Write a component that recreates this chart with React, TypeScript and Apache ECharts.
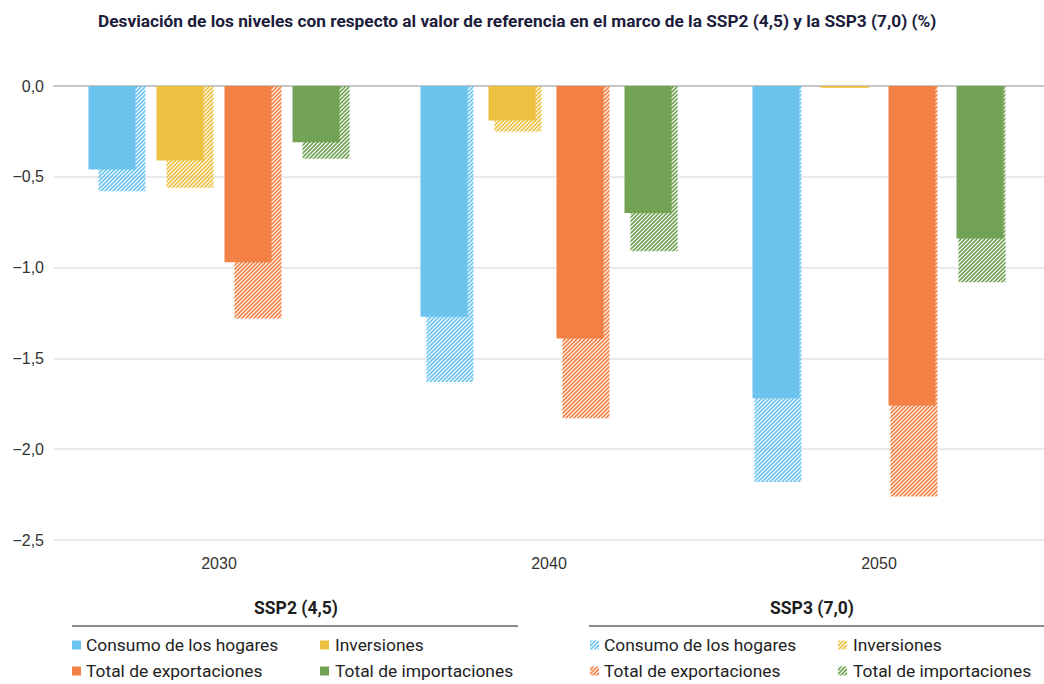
import React, { useEffect, useRef } from "react";
import * as echarts from "echarts";

const categories = ["2030", "2040", "2050"];
const seriesNames = ["Consumo de los hogares", "Inversiones", "Total de exportaciones", "Total de importaciones"];
const ssp2Consumo = [-0.46, -1.27, -1.72];
const ssp2Inversiones = [-0.41, -0.19, -0.01];
const ssp2Exportaciones = [-0.97, -1.39, -1.76];
const ssp2Importaciones = [-0.31, -0.7, -0.84];
const ssp3Consumo = [-0.58, -1.63, -2.18];
const ssp3Inversiones = [-0.56, -0.25, -0.01];
const ssp3Exportaciones = [-1.28, -1.83, -2.26];
const ssp3Importaciones = [-0.4, -0.91, -1.08];
const colors = ["#6cc3ee", "#ecc040", "#f38146", "#72a254"];

const TITLE = "Desviación de los niveles con respecto al valor de referencia en el marco de la SSP2 (4,5) y la SSP3 (7,0) (%)";
const FONT = "Roboto, 'Noto Sans', sans-serif";
const AXISFONT = "'Liberation Sans', Arial, sans-serif";

function makeHatch(color: string) {
  const c = document.createElement("canvas");
  c.width = 4;
  c.height = 4;
  const ctx = c.getContext("2d")!;
  ctx.strokeStyle = color;
  ctx.lineWidth = 1.6;
  ctx.beginPath();
  ctx.moveTo(-1, 5);
  ctx.lineTo(5, -1);
  ctx.moveTo(-1, 1);
  ctx.lineTo(1, -1);
  ctx.moveTo(3, 5);
  ctx.lineTo(5, 3);
  ctx.stroke();
  return { image: c, repeat: "repeat" };
}

export default function App() {
  const ref = useRef<HTMLDivElement>(null);
  useEffect(() => {
    if (!ref.current) return;
    const chart = echarts.init(ref.current, null, { renderer: "svg" });
    const ssp2 = [ssp2Consumo, ssp2Inversiones, ssp2Exportaciones, ssp2Importaciones];
    const ssp3 = [ssp3Consumo, ssp3Inversiones, ssp3Exportaciones, ssp3Importaciones];
    const hatches = colors.map((c) => makeHatch(c));
    const gridBase = { top: 86, height: 454, width: 1001 };
    const hiddenX = (gi: number) => ({
      type: "category",
      data: categories,
      gridIndex: gi,
      axisLine: { show: false },
      axisTick: { show: false },
      axisLabel: { show: false },
    });
    const hiddenY = (gi: number) => ({
      type: "value",
      gridIndex: gi,
      min: -2.5,
      max: 0,
      interval: 0.5,
      axisLine: { show: false },
      axisTick: { show: false },
      axisLabel: { show: false },
      splitLine: { show: false },
    });
    const series: any[] = [];
    ssp3.forEach((d, i) => {
      series.push({
        type: "bar",
        name: seriesNames[i] + " SSP3",
        xAxisIndex: 1,
        yAxisIndex: 1,
        data: d,
        barWidth: 47,
        barGap: "44.7%",
        z: 1,
        itemStyle: { color: hatches[i] },
      });
    });
    ssp2.forEach((d, i) => {
      series.push({
        type: "bar",
        name: seriesNames[i] + " SSP2",
        xAxisIndex: 0,
        yAxisIndex: 0,
        data: d,
        barWidth: 47,
        barGap: "44.7%",
        z: 3,
        itemStyle: { color: colors[i] },
      });
    });

    const graphics: any[] = [];
    const legendBlock = (header: string, headerX: number, lineX1: number, lineX2: number, iconX: number[], textX: number[], hatched: boolean) => {
      graphics.push({
        type: "text",
        x: headerX,
        y: 608,
        style: { text: header, fill: "#1e1e1e", font: `bold 17.5px ${FONT}`, textAlign: "center", textVerticalAlign: "middle" },
      });
      graphics.push({
        type: "line",
        shape: { x1: lineX1, y1: 626, x2: lineX2, y2: 626 },
        style: { stroke: "#8a8a8a", lineWidth: 2 },
      });
      const rows = [645, 671];
      seriesNames.forEach((n, i) => {
        const col = i % 2;
        const row = Math.floor(i / 2);
        graphics.push({
          type: "rect",
          shape: { x: iconX[col], y: rows[row] - 4.5, width: 9, height: 9 },
          style: { fill: hatched ? hatches[i] : colors[i] },
        });
        graphics.push({
          type: "text",
          x: textX[col],
          y: rows[row],
          style: { text: n, fill: "#222222", font: `17.4px ${FONT}`, textVerticalAlign: "middle" },
        });
      });
    };
    legendBlock("SSP2 (4,5)", 296, 72, 518, [72, 320], [86, 335], false);
    legendBlock("SSP3 (7,0)", 812, 589, 1044, [590, 838], [604, 853], true);

    chart.setOption({
      animation: false,
      title: {
        text: TITLE,
        left: 93,
        top: 7,
        textStyle: { fontFamily: FONT, fontSize: 17.3, fontWeight: "bold", color: "#1c1c3c" },
      },
      grid: [
        { left: 48, ...gridBase },
        { left: 60, ...gridBase },
        { left: 54, ...gridBase },
      ],
      xAxis: [
        hiddenX(0),
        hiddenX(1),
        {
          type: "category",
          data: categories,
          gridIndex: 2,
          position: "bottom",
          axisLine: { show: false },
          axisTick: { show: false },
          axisLabel: { color: "#333333", fontSize: 16, fontFamily: AXISFONT, margin: 15 },
        },
        {
          type: "category",
          data: categories,
          gridIndex: 2,
          position: "top",
          axisLine: { show: true, onZero: false, lineStyle: { color: "#c6c6c6", width: 2 } },
          axisTick: { show: false },
          axisLabel: { show: false },
        },
      ],
      yAxis: [
        hiddenY(0),
        hiddenY(1),
        {
          type: "value",
          gridIndex: 2,
          min: -2.5,
          max: 0,
          interval: 0.5,
          axisLine: { show: false },
          axisTick: { show: false },
          axisLabel: {
            color: "#333333",
            fontSize: 16,
            fontFamily: AXISFONT,
            margin: 10,
            formatter: (v: number) => v.toFixed(1).replace(".", ",").replace("-", "\u2212"),
          },
          splitLine: { lineStyle: { color: "#e3e3e3", width: 1.5 } },
        },
      ],
      series,
      graphic: graphics,
    });
    return () => chart.dispose();
  }, []);
  return <div ref={ref} style={{ position: "absolute", left: 0, top: 0, width: 1044, height: 684, background: "#fff" }} />;
}
